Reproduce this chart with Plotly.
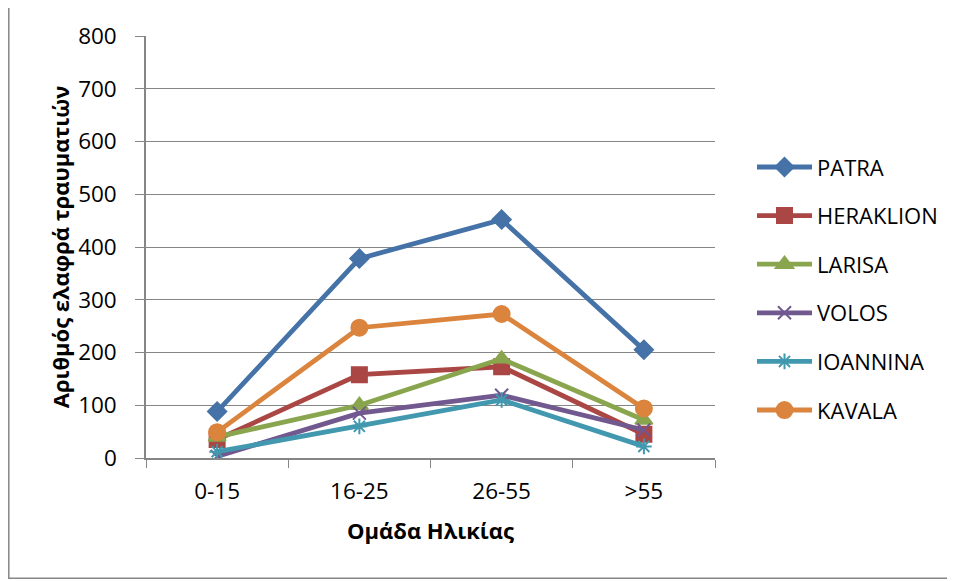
import plotly.graph_objects as go

categories = ["0-15", "16-25", "26-55", ">55"]
patra = [88, 378, 452, 205]
heraklion = [35, 158, 173, 45]
larisa = [40, 100, 188, 72]
volos = [3, 85, 119, 53]
ioannina = [12, 60, 110, 22]
kavala = [49, 247, 273, 94]

series = [
    ("PATRA", patra, "#4572A7", "diamond", 14),
    ("HERAKLION", heraklion, "#AA4643", "square", 15),
    ("LARISA", larisa, "#89A54E", "triangle-up", 15),
    ("VOLOS", volos, "#71588F", "x-thin", 13),
    ("IOANNINA", ioannina, "#4198AF", "asterisk", 13),
    ("KAVALA", kavala, "#DB843D", "circle", 16),
]

fig = go.Figure()
for name, vals, color, sym, size in series:
    fig.add_trace(go.Scatter(
        x=categories, y=vals, name=name, mode="lines+markers",
        legendgroup=name,
        line=dict(color=color, width=4.8),
        marker=dict(symbol=sym, size=size, color=color,
                    line=dict(color=color, width=2)),
    ))

# page has an 8px body margin; figure spans page x 8..955, y 8..581
OFF = 8
W, H = 955 - OFF, 581 - OFF
L, R, T, B = 146 - OFF, 240, 33 - OFF, 123
pw = W - L - R
ph = H - T - B

fig.update_layout(
    width=W, height=H,
    margin=dict(l=L, r=R, t=T, b=B),
    paper_bgcolor="white", plot_bgcolor="white",
    font=dict(family="Open Sans, Noto Sans, sans-serif", color="black"),
    showlegend=True,
    legend=dict(x=(752 - 146) / pw, y=(458 - 144) / ph, xanchor="left", yanchor="top",
                font=dict(size=22), tracegroupgap=17, itemwidth=55,
                bgcolor="rgba(0,0,0,0)"),
    xaxis=dict(
        type="category", range=[-0.5, 3.5],
        showgrid=False, showline=True, linecolor="#868686", linewidth=1.5,
        ticks="outside", tickson="boundaries", ticklen=8, tickcolor="#868686",
        tickfont=dict(size=22.5), zeroline=False, ticklabelstandoff=12,
        title=dict(text="<b>Ομάδα Ηλικίας</b>", font=dict(size=22), standoff=19),
    ),
    yaxis=dict(
        range=[0, 800], dtick=100,
        showgrid=True, gridcolor="#868686", gridwidth=1,
        showline=True, linecolor="#868686", linewidth=1.5,
        ticks="outside", ticklen=9, tickcolor="#868686",
        tickfont=dict(size=22.5), zeroline=False, ticklabelstandoff=14,
        title=dict(text="<b>Αριθμός ελαφρά τραυματιών</b>", font=dict(size=22), standoff=2),
    ),
    shapes=[dict(type="rect", xref="paper", yref="paper",
                 x0=(8.8 - 146) / pw, x1=(954 - 146) / pw,
                 y0=(458 - 579) / ph, y1=(458 - 4) / ph,
                 line=dict(color="#868686", width=1.5), layer="below")],
)

fig.write_html("out.html")
